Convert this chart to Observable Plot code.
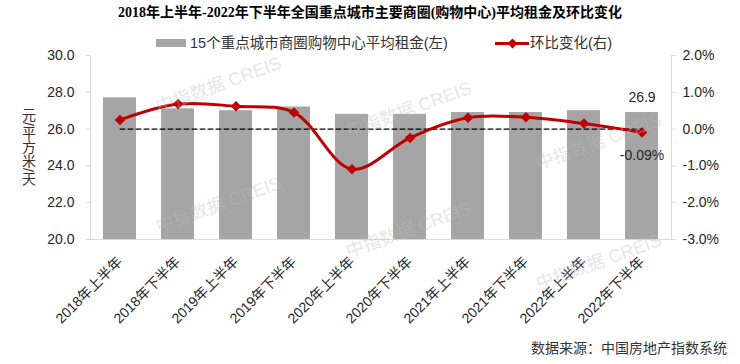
<!DOCTYPE html>
<html>
<head>
<meta charset="utf-8">
<script src="https://cdn.jsdelivr.net/npm/d3@7"></script>
<script src="https://cdn.jsdelivr.net/npm/@observablehq/plot@0.6"></script>
<style>
  html, body { margin: 0; padding: 0; background: #fff; }
  #wrap { position: relative; width: 740px; height: 364px; overflow: hidden;
          font-family: "Liberation Sans", "Noto Sans CJK SC", sans-serif; color: #262626; }
  #chart { position: absolute; left: 0; top: 0; }
  .abs { position: absolute; white-space: nowrap; }
  #title { left: 0; width: 740px; top: 4px; text-align: center; font-weight: bold; font-size: 14px;
           font-family: "Liberation Serif", "Noto Sans CJK SC", serif; color: #000; line-height: 18px; }
  .legtext { font-size: 14.5px; line-height: 18px; top: 34px; color: #333; }
  #ylabel { left: 20px; top: 108px; writing-mode: vertical-rl; font-size: 14px; color: #333; line-height: 16px; }
  #source { right: 13px; top: 339px; font-size: 14px; color: #333; line-height: 18px; }
  .wm { position: absolute; white-space: nowrap; font-size: 18px; font-weight: normal; color: rgba(190,190,190,0.4);
        transform: translate(-50%, -50%) rotate(-20deg); pointer-events: none; z-index: 5;
        font-family: "Liberation Sans", "Noto Sans CJK SC", sans-serif; }
</style>
</head>
<body>
<div id="wrap">
  <div id="chart"></div>
  <div id="title" class="abs">2018年上半年-2022年下半年全国重点城市主要商圈(购物中心)平均租金及环比变化</div>
  <div class="abs" style="left:156px; top:39px; width:30px; height:8px; background:#a5a5a5;"></div>
  <div class="abs legtext" style="left:190px;">15个重点城市商圈购物中心平均租金(左)</div>
  <div class="abs" style="left:495px; top:42px; width:34px; height:3px; background:#c00000;"></div>
  <div class="abs" style="left:509px; top:39.5px; width:7px; height:7px; background:#c00000; transform:rotate(45deg);"></div>
  <div class="abs legtext" style="left:530px;">环比变化(右)</div>
  <div id="ylabel" class="abs">元/平方米/天</div>
  <div id="source" class="abs">数据来源：中国房地产指数系统</div>
</div>
<script>
// ---- data ----
const categories = ["2018年上半年","2018年下半年","2019年上半年","2019年下半年","2020年上半年",
                    "2020年下半年","2021年上半年","2021年下半年","2022年上半年","2022年下半年"];
const rent = [27.7, 27.1, 27.0, 27.2, 26.8, 26.8, 26.9, 26.9, 27.0, 26.9];       // 元/平方米/天 (left)
const changePct = [0.25, 0.68, 0.62, 0.45, -1.09, -0.24, 0.31, 0.32, 0.15, -0.09]; // % (right)
const leftTicks = [20, 22, 24, 26, 28, 30];
const rightTicks = [-3, -2, -1, 0, 1, 2];

// right axis (-3%..2%) mapped onto left axis (20..30)
const toLeft = p => 26 + 2 * p;
const toRight = v => (v - 26) / 2;

const data = categories.map((c, i) => ({cat: c, rent: rent[i], pct: changePct[i]}));
const last = [data[data.length - 1]];

const chart = Plot.plot({
  width: 740,
  height: 364,
  marginTop: 55,
  marginRight: 69,
  marginBottom: 125,
  marginLeft: 90,
  style: {background: "transparent", fontFamily: '"Liberation Sans", "Noto Sans CJK SC", sans-serif', fontSize: "14px", color: "#262626"},
  x: {type: "band", domain: categories, paddingInner: 0.43, paddingOuter: 0.215, axis: null},
  y: {domain: [20, 30], axis: null},
  marks: [
    Plot.barY(data, {x: "cat", y1: () => 20, y2: "rent", fill: "#a5a5a5"}),
    Plot.frame({anchor: "left", stroke: "#d9d9d9"}),
    Plot.frame({anchor: "right", stroke: "#d9d9d9"}),
    Plot.frame({anchor: "bottom", stroke: "#d9d9d9"}),
    Plot.axisY({anchor: "left", ticks: leftTicks, tickFormat: d => d.toFixed(1), tickSize: 4, tickPadding: 12,
                stroke: "#d9d9d9", fill: "#262626", fontSize: 14, label: null}),
    Plot.axisY({anchor: "right", ticks: rightTicks.map(toLeft), tickFormat: v => toRight(v).toFixed(1) + "%", tickSize: 4, tickPadding: 7,
                stroke: "#d9d9d9", fill: "#262626", fontSize: 14, label: null}),
    Plot.text(categories, {x: d => d, y: () => 20, text: d => d, rotate: -45, textAnchor: "end", dy: 20,
                           fontSize: 14, fill: "#262626"}),
    Plot.lineY(categories, {x: d => d, y: () => toLeft(0), stroke: "#000", strokeWidth: 1.2, strokeDasharray: "5,3"}),
    Plot.line(data, {x: "cat", y: d => toLeft(d.pct), stroke: "#c00000", strokeWidth: 3, curve: "catmull-rom"}),
    Plot.dot(data, {x: "cat", y: d => toLeft(d.pct), symbol: "square", rotate: 45, r: 4.2, fill: "#c00000", stroke: "none"}),
    Plot.text(last, {x: "cat", y: "rent", text: d => d.rent.toFixed(1), dy: -15, fontSize: 14, fill: "#262626"}),
    Plot.text(last, {x: "cat", y: d => toLeft(d.pct), text: d => d.pct.toFixed(2) + "%", dy: 23, fontSize: 14, fill: "#262626"})
  ]
});
document.getElementById("chart").appendChild(chart);

// faint watermarks
const wrap = document.getElementById("wrap");
const wmCols = [[218, 83], [408, 108], [598, 140]];
for (const [cx, cy0] of wmCols) {
  for (let k = 0; k <= 2; k++) {
    const cy = cy0 + k * 120;
    if (cy > 300) continue;
    const s = document.createElement("div");
    s.className = "wm";
    s.style.left = cx + "px";
    s.style.top = cy + "px";
    s.textContent = "中指数据 CREIS";
    wrap.appendChild(s);
  }
}
</script>
</body>
</html>
